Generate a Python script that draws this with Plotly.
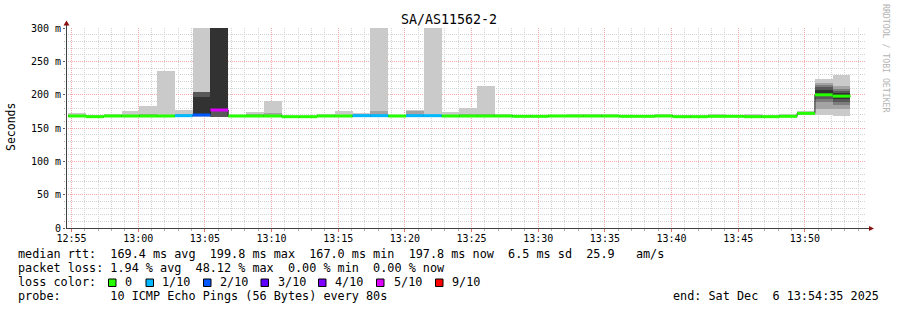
import pandas as pd
import plotly.graph_objects as go

# ---------------- data ----------------
TITLE = "SA/AS11562-2"
RANGE_START = "2025-12-06 12:54:35"
RANGE_END = "2025-12-06 13:54:35"
FIRST_BIN = "2025-12-06 12:54:45"
STEP_S = 80

# median rtt per 80 s bin (ms)
median_ms = [168, 167, 168, 168, 168, 168, 168.5, 169.5, 177, 168,
             168, 168, 167, 167, 168, 168, 168.5, 168.5, 168, 168.5,
             168.5, 168, 168, 168, 168, 167.5, 167.5, 168, 168, 168,
             168, 167.5, 167.5, 168, 167, 167, 167.5, 167.5, 167, 167,
             167.5, 172, 199.8, 197.8]

# lost pings out of 10 per bin
loss_tenths = [0, 0, 0, 0, 0, 0, 1, 2, 5, 0,
               0, 0, 0, 0, 0, 0, 1, 1, 0, 1,
               1, 0, 0, 0, 0, 0, 0, 0, 0, 0,
               0, 0, 0, 0, 0, 0, 0, 0, 0, 0,
               0, 0, 0, 0]

# 10 sorted ping rtts per bin (ms); 400 = beyond the top of the graph
pings_ms = [
    [166.5, 167, 167.4, 167.7, 167.9, 168.2, 168.5, 168.9, 170, 173],
    [165.5, 166, 166.4, 166.7, 166.9, 167.2, 167.5, 167.9, 168.5, 170],
    [166.5, 167, 167.4, 167.7, 167.9, 168.2, 168.5, 168.9, 169.5, 171.5],
    [166.5, 167, 167.4, 167.7, 167.9, 168.2, 168.5, 168.9, 170, 176],
    [166.5, 167, 167.4, 167.7, 167.9, 168.2, 168.5, 168.9, 171, 183],
    [166.5, 167, 167.4, 167.7, 167.9, 168.2, 168.5, 168.9, 170, 235],
    [167, 167.5, 167.9, 168.2, 168.4, 168.7, 169, 169.4, 171, 177.5],
    [167, 168, 169, 169.5, 170, 197, 204, 204, 204, 400],
    [166, 166.2, 166.4, 166.5, 176, 400, 400, 400, 400, 400],
    [166.5, 167, 167.4, 167.7, 167.9, 168.2, 168.5, 168.7, 168.9, 169],
    [166.5, 167, 167.4, 167.7, 167.9, 168.2, 168.5, 169, 171, 174],
    [166.5, 167, 167.4, 167.7, 167.9, 168.2, 168.5, 169.5, 172, 191],
    [165.5, 166, 166.4, 166.7, 166.9, 167.2, 167.5, 167.8, 168.1, 168.5],
    [165.5, 166, 166.4, 166.7, 166.9, 167.2, 167.5, 167.8, 168.1, 168.5],
    [166.5, 167, 167.4, 167.7, 167.9, 168.2, 168.5, 168.9, 169.5, 171],
    [166.5, 167, 167.4, 167.7, 167.9, 168.2, 168.5, 168.9, 170, 176],
    [167, 167.5, 167.9, 168.2, 168.4, 168.7, 169, 169.4, 171.5, 172],
    [167, 167.5, 167.9, 168.2, 168.4, 168.7, 169, 169.5, 175, 400],
    [166.5, 167, 167.4, 167.7, 167.9, 168.2, 168.5, 168.9, 169.3, 170],
    [167, 167.5, 167.9, 168.2, 168.4, 168.7, 169, 169.5, 175.5, 176.5],
    [167, 167.5, 167.9, 168.2, 168.4, 168.7, 169, 169.4, 170, 400],
    [166.5, 167, 167.4, 167.7, 167.9, 168.2, 168.5, 168.9, 170, 173.5],
    [166.5, 167, 167.4, 167.7, 167.9, 168.2, 168.5, 168.9, 170.5, 179.5],
    [166.5, 167, 167.4, 167.7, 167.9, 168.2, 168.5, 168.9, 170.5, 213.5],
    [166.5, 167, 167.4, 167.7, 167.9, 168.2, 168.5, 168.9, 169.5, 171],
    [166, 166.5, 166.9, 167.2, 167.4, 167.7, 168, 168.4, 169, 170],
    [166, 166.5, 166.9, 167.2, 167.4, 167.7, 168, 168.4, 169, 170],
    [166.5, 167, 167.4, 167.7, 167.9, 168.2, 168.5, 168.9, 169.3, 170],
    [166.5, 167, 167.4, 167.7, 167.9, 168.2, 168.5, 168.9, 169.5, 171],
    [166.5, 167, 167.4, 167.7, 167.9, 168.2, 168.5, 168.9, 169.5, 171],
    [166.5, 167, 167.4, 167.7, 167.9, 168.2, 168.5, 168.9, 169.5, 171],
    [166, 166.5, 166.9, 167.2, 167.4, 167.7, 168, 168.3, 168.6, 169],
    [166, 166.5, 166.9, 167.2, 167.4, 167.7, 168, 168.4, 169, 170],
    [166.5, 167, 167.4, 167.7, 167.9, 168.2, 168.5, 168.9, 169.5, 171],
    [165.5, 166, 166.4, 166.7, 166.9, 167.2, 167.5, 167.9, 168.4, 169],
    [165.5, 166, 166.4, 166.7, 166.9, 167.2, 167.5, 167.9, 168.4, 169],
    [166, 166.5, 166.9, 167.2, 167.4, 167.7, 168, 168.4, 169, 170.5],
    [166, 166.5, 166.9, 167.2, 167.4, 167.7, 168, 168.3, 168.6, 169],
    [165.5, 166, 166.4, 166.7, 166.9, 167.2, 167.5, 167.9, 168.8, 170.5],
    [165.5, 166, 166.4, 166.7, 166.9, 167.2, 167.5, 167.9, 168.4, 169],
    [166, 166.5, 166.9, 167.2, 167.4, 167.7, 168, 168.4, 169.5, 171],
    [169, 170, 170.5, 171, 171.5, 172.5, 173, 173.5, 174.5, 176],
    [169, 179, 189, 193, 198, 207.5, 211.5, 215, 217.5, 224],
    [168, 178, 184, 189, 193, 202, 205, 209, 213, 230],
]

y_tick_vals = [0, 50, 100, 150, 200, 250, 300]
y_tick_text = ["0", "50 m", "100 m", "150 m", "200 m", "250 m", "300 m"]

loss_classes = [0, 1, 2, 3, 4, 5, 9]
loss_labels = ["0", "1/10", "2/10", "3/10", "4/10", "5/10", "9/10"]
loss_colors = ["#26ff00", "#00b8ff", "#0059ff", "#5e00ff", "#7e00ff", "#dd00ff", "#ff0000"]
smoke_colors = ["#cacaca", "#a4a4a4", "#7e7e7e", "#585858", "#323232"]

legend_rtt = "median rtt:  169.4 ms avg  199.8 ms max  167.0 ms min  197.8 ms now  6.5 ms sd  25.9   am/s"
legend_loss = "packet loss: 1.94 % avg  48.12 % max  0.00 % min  0.00 % now"
legend_color = "loss color:"
legend_probe = "probe:       10 ICMP Echo Pings (56 Bytes) every 80s"
legend_end = "end: Sat Dec  6 13:54:35 2025"
watermark = "RRDTOOL / TOBI OETIKER"
y_title = "Seconds"

# ---------------- layout geometry ----------------
W, H = 897, 310
ML, MR, MT, MB = 66, 31, 28, 82
PW, PH = W - ML - MR, H - MT - MB
MONO = "DejaVu Sans Mono"


def px(x):
    return (x - ML) / PW


def py(y):
    return (MT + PH - y) / PH


def nb(s):
    return s.replace(" ", "\u00a0")


n = len(median_ms)
starts = pd.date_range(FIRST_BIN, periods=n, freq=f"{STEP_S}s")
ends = starts + pd.Timedelta(seconds=STEP_S)
centers = starts + pd.Timedelta(seconds=STEP_S / 2)

fig = go.Figure()

# smoke bands (nested pairs of sorted pings)
for k in range(5):
    lo = [row[k] for row in pings_ms]
    hi = [row[9 - k] for row in pings_ms]
    fig.add_trace(go.Bar(
        x=centers, base=lo, y=[h - l for h, l in zip(hi, lo)],
        width=STEP_S * 1000, marker=dict(color=smoke_colors[k], line=dict(width=0)),
        showlegend=False, hoverinfo="skip"))

# thin dark median line (gives the vertical steps)
fig.add_trace(go.Scatter(
    x=list(starts) + [ends[-1]], y=median_ms + [median_ms[-1]],
    mode="lines", line=dict(color="#202020", width=1, shape="hv"),
    showlegend=False, hoverinfo="skip"))

# colored median band per bin, coloured by loss (no vertical connectors)
for cls, col in zip(loss_classes, loss_colors):
    xs, ys = [], []
    for i in range(n):
        if loss_tenths[i] == cls:
            xs += [starts[i], ends[i], None]
            ys += [median_ms[i], median_ms[i], None]
    if xs:
        fig.add_trace(go.Scatter(x=xs, y=ys, mode="lines",
                                 line=dict(color=col, width=3),
                                 showlegend=False, hoverinfo="skip"))

MAJ_GRID = "#f3a9a9"
MIN_GRID = "#d4d4d4"

fig.update_layout(
    width=W, height=H,
    margin=dict(l=ML, r=MR, t=MT, b=MB, pad=0),
    paper_bgcolor="white", plot_bgcolor="white",
    barmode="overlay", bargap=0,
    showlegend=False,
    font=dict(family=MONO, size=10, color="black"),
    xaxis=dict(
        type="date", range=[RANGE_START, RANGE_END],
        tick0="2025-12-06 12:55:00", dtick=300000, tickformat="%H:%M",
        showgrid=True, gridcolor=MAJ_GRID, griddash="1px,1px", gridwidth=1,
        ticks="outside", ticklen=3, tickcolor="#e07070", tickwidth=1,
        ticklabelstandoff=-2,
        tickfont=dict(family=MONO, size=10, color="black"),
        minor=dict(dtick=60000, tick0="2025-12-06 12:55:00", showgrid=True,
                   gridcolor=MIN_GRID, griddash="1px,1px", ticks="outside",
                   ticklen=2, tickcolor="#b0b0b0"),
        showline=False, zeroline=False, fixedrange=True,
    ),
    yaxis=dict(
        range=[0, 300], tickmode="array", tickvals=y_tick_vals, ticktext=y_tick_text,
        showgrid=True, gridcolor=MAJ_GRID, griddash="1px,1px", gridwidth=1,
        ticks="outside", ticklen=2, tickcolor="#606060",
        tickfont=dict(family=MONO, size=10, color="black"),
        minor=dict(dtick=10, tick0=0, showgrid=True, gridcolor=MIN_GRID,
                   griddash="1px,1px", ticks="outside", ticklen=1, tickcolor="#b0b0b0"),
        showline=False, zeroline=False, fixedrange=True,
    ),
)

AX = "#404040"
ARROW = "#8b1010"
shapes = [
    dict(type="line", xref="paper", yref="paper", x0=px(66.5), x1=px(66.5),
         y0=py(228.5), y1=py(24), line=dict(color=AX, width=1), layer="above"),
    dict(type="line", xref="paper", yref="paper", x0=px(66), x1=px(869),
         y0=py(228.5), y1=py(228.5), line=dict(color=AX, width=1), layer="above"),
    dict(type="path", xref="paper", yref="paper",
         path=f"M {px(66.5)} {py(20.5)} L {px(63.5)} {py(25.5)} L {px(69.5)} {py(25.5)} Z",
         fillcolor=ARROW, line=dict(width=0), layer="above"),
    dict(type="path", xref="paper", yref="paper",
         path=f"M {px(874)} {py(228.5)} L {px(869)} {py(226)} L {px(869)} {py(231)} Z",
         fillcolor=ARROW, line=dict(width=0), layer="above"),
]

box_x = [108.5, 146, 203.5, 261, 318.5, 376.5, 435.5]
label_x = [123.3, 160, 218.3, 276, 333.3, 391.7, 450]
for bx, col in zip(box_x, loss_colors):
    shapes.append(dict(type="rect", xref="paper", yref="paper",
                       x0=px(bx), x1=px(bx + 7.5), y0=py(286.5), y1=py(279),
                       fillcolor=col, line=dict(color="black", width=1), layer="above"))
fig.update_layout(shapes=shapes)

LEG = 11.8
ann = []


def text(x, y, s, size=LEG, anchor="left", color="black", angle=0):
    ann.append(dict(xref="paper", yref="paper", x=px(x), y=py(y), text=nb(s),
                    showarrow=False, xanchor=anchor, yanchor="middle",
                    font=dict(family=MONO, size=size, color=color),
                    textangle=angle))


text(448.5, 19, TITLE, size=13.3, anchor="center")
text(16, 254, legend_rtt)
text(16, 268, legend_loss)
text(16, 282, legend_color)
for lx, lab in zip(label_x, loss_labels):
    text(lx, 282, lab)
text(16, 296, legend_probe)
text(881, 296, legend_end, anchor="right")
text(886, 59, watermark, size=8.2, anchor="center", color="#b4b4b4", angle=90)
text(11, 127, y_title, size=11.5, anchor="center", angle=-90)
fig.update_layout(annotations=ann)

fig.write_html("out.html")
